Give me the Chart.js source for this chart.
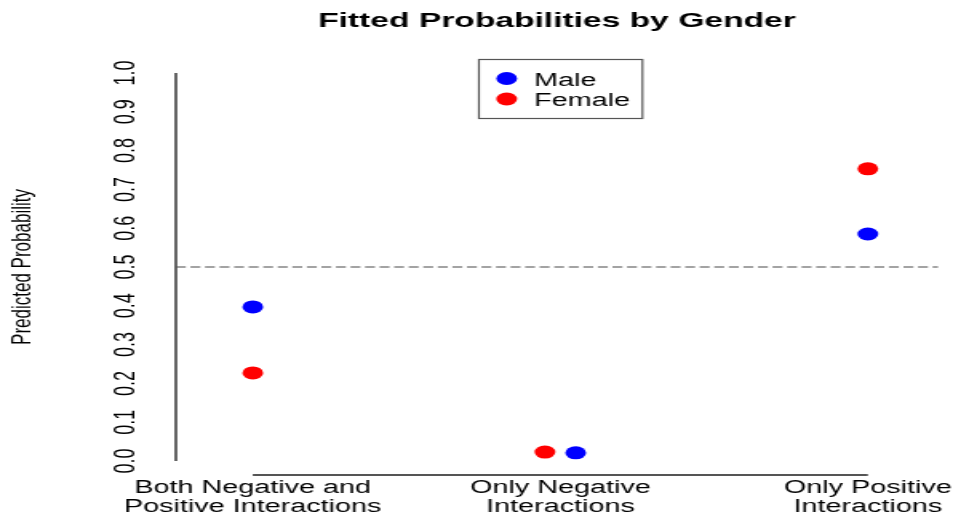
<!DOCTYPE html>
<html>
<head>
<meta charset="utf-8">
<script src="https://cdn.jsdelivr.net/npm/chart.js@4/dist/chart.umd.min.js"></script>
<style>
  html, body { margin: 0; padding: 0; background: #fff; overflow: hidden; }
  #wrap { width: 596px; height: 514px; transform: scaleX(1.599); transform-origin: 0 0; }
</style>
</head>
<body>
<div id="wrap"><canvas id="c" width="596" height="514"></canvas></div>
<script>
// Category labels and their positions on the x scale
const categories = [
  ["Both Negative and", "Positive Interactions"],
  ["Only Negative", "Interactions"],
  ["Only Positive", "Interactions"]
];
const categoryPos = [1, 2, 3];

// Fitted probabilities per gender (x positions nudged apart where they overlap)
const maleX = [1, 2.05, 3];
const maleProb = [0.397, 0.021, 0.585];
const femaleX = [1, 1.95, 3];
const femaleProb = [0.227, 0.023, 0.753];

// y axis ticks
const yTicks = [0.0, 0.1, 0.2, 0.3, 0.4, 0.5, 0.6, 0.7, 0.8, 0.9, 1.0];
const yTickLabels = ["0.0", "0.1", "0.2", "0.3", "0.4", "0.5", "0.6", "0.7", "0.8", "0.9", "1.0"];
const refLine = 0.5;

const seriesNames = ["Male", "Female"];
const seriesColors = ["#0000ff", "#ff0000"];

const FONT = '"Liberation Sans", Arial, Helvetica, sans-serif';

function toPoints(xs, ys) {
  return xs.map((x, i) => ({ x: x, y: ys[i] }));
}

const basePlot = {
  id: 'basePlot',
  beforeDatasetsDraw(chart) {
    const { ctx, chartArea, scales } = chart;
    const xs = scales.x, ys = scales.y;
    ctx.save();
    // reference line at 0.5
    ctx.strokeStyle = '#858585';
    ctx.lineWidth = 1.5;
    ctx.setLineDash([6.2, 2.9]);
    const yr = ys.getPixelForValue(refLine);
    ctx.beginPath();
    ctx.moveTo(chartArea.left, yr);
    ctx.lineTo(chartArea.right, yr);
    ctx.stroke();
    ctx.setLineDash([]);

    // y axis line, spanning first to last tick
    ctx.strokeStyle = '#555';
    ctx.lineWidth = 1.8;
    ctx.beginPath();
    ctx.moveTo(chartArea.left, ys.getPixelForValue(yTicks[0]));
    ctx.lineTo(chartArea.left, ys.getPixelForValue(yTicks[yTicks.length - 1]));
    ctx.stroke();

    // x axis line, spanning first to last category
    ctx.beginPath();
    ctx.moveTo(xs.getPixelForValue(categoryPos[0]), chartArea.bottom - 1.5);
    ctx.lineTo(xs.getPixelForValue(categoryPos[categoryPos.length - 1]), chartArea.bottom - 1.5);
    ctx.stroke();

    ctx.fillStyle = '#000';
    // y tick labels, rotated
    ctx.font = '18px ' + FONT;
    ctx.textAlign = 'center';
    ctx.textBaseline = 'alphabetic';
    yTicks.forEach((v, i) => {
      ctx.save();
      ctx.translate(83.5, ys.getPixelForValue(v));
      ctx.rotate(-Math.PI / 2);
      ctx.fillText(yTickLabels[i], 0, 0);
      ctx.restore();
    });

    // x category labels, two lines each
    categoryPos.forEach((p, i) => {
      const px = xs.getPixelForValue(p);
      ctx.fillText(categories[i][0], px, 492.5);
      ctx.fillText(categories[i][1], px, 511.5);
    });

    // y axis title
    ctx.save();
    ctx.font = '17px ' + FONT;
    ctx.translate(18.8, ys.getPixelForValue(refLine));
    ctx.rotate(-Math.PI / 2);
    ctx.fillText('Predicted Probability', 0, 0);
    ctx.restore();

    // main title
    ctx.font = 'bold 21px ' + FONT;
    ctx.fillText('Fitted Probabilities by Gender', (chartArea.left + chartArea.right) / 2, 27);
    ctx.restore();
  },
  afterDatasetsDraw(chart) {
    const ctx = chart.ctx;
    ctx.save();
    // legend box
    ctx.strokeStyle = '#555';
    ctx.lineWidth = 1.2;
    ctx.strokeRect(299.5, 59.5, 102.3, 59);
    const rows = [78.5, 99];
    ctx.font = '18px ' + FONT;
    ctx.textAlign = 'left';
    ctx.textBaseline = 'alphabetic';
    seriesNames.forEach((name, i) => {
      ctx.fillStyle = seriesColors[i];
      ctx.beginPath();
      ctx.arc(316.9, rows[i], 6.5, 0, Math.PI * 2);
      ctx.fill();
      ctx.fillStyle = '#000';
      ctx.fillText(name, 334, rows[i] + 7);
    });
    ctx.restore();
  }
};

new Chart(document.getElementById('c'), {
  type: 'scatter',
  data: {
    datasets: [
      {
        label: seriesNames[0],
        data: toPoints(maleX, maleProb),
        backgroundColor: seriesColors[0],
        borderWidth: 0,
        pointRadius: 6.5
      },
      {
        label: seriesNames[1],
        data: toPoints(femaleX, femaleProb),
        backgroundColor: seriesColors[1],
        borderWidth: 0,
        pointRadius: 6.5
      }
    ]
  },
  options: {
    responsive: false,
    animation: false,
    events: [],
    layout: { padding: { left: 110, right: 9.4, top: 57.5, bottom: 37.5 } },
    plugins: {
      legend: { display: false },
      title: { display: false },
      tooltip: { enabled: false }
    },
    scales: {
      x: { type: 'linear', min: 0.75, max: 3.228, display: false },
      y: { type: 'linear', min: -0.04, max: 1.04, display: false }
    }
  },
  plugins: [basePlot]
});
</script>
</body>
</html>
